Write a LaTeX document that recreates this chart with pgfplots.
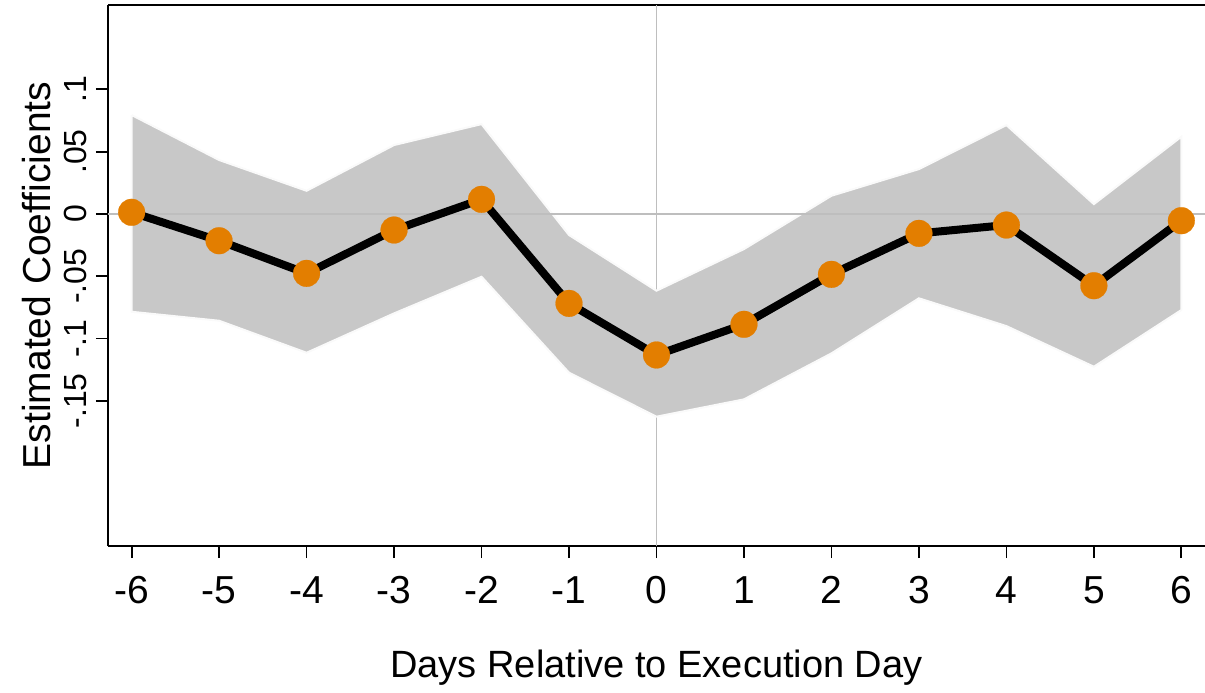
\documentclass[border=0pt]{standalone}
\usepackage{fontspec}
\setmainfont{Liberation Sans}
\usepackage{pgfplots}
\usepackage{pgfplotstable}
\pgfplotsset{compat=1.18}
\definecolor{bandgray}{RGB}{200,200,200}
\definecolor{dotorange}{RGB}{227,126,0}
\definecolor{refgray}{RGB}{190,190,190}

\pgfplotstableread{
x  y        
-6  0.0013
-5 -0.0215
-4 -0.0477
-3 -0.0129
-2  0.0117
-1 -0.0718
0  -0.1132
1  -0.0886
2  -0.0485
3  -0.0156
4  -0.0089
5  -0.0576
6  -0.0054
}\coef

\pgfplotstableread{
x  b
-6  0.0794
-5  0.0433
-4  0.0186
-3  0.0553
-2  0.0721
-1 -0.0169
0  -0.0616
1  -0.0282
2   0.0146
3   0.0360
4   0.0713
5   0.0079
6   0.0620
6  -0.0771
5  -0.1226
4  -0.0900
3  -0.0677
2  -0.1119
1  -0.1488
0  -0.1627
-1 -0.1274
-2 -0.0504
-3 -0.0798
-4 -0.1114
-5 -0.0857
-6 -0.0785
-6  0.0794
}\band

\begin{document}
\begin{tikzpicture}
\useasboundingbox (-54pt,-73pt) rectangle (548.5pt,273pt);
\begin{axis}[
  at={(0,0)}, anchor=south west,
  scale only axis, width=548.5pt, height=270.5pt,
  xmin=-6.27, xmax=6.27, ymin=-0.2665, ymax=0.1677,
  axis x line*=box, axis y line*=left,
  axis line style={line width=1pt, black},
  xtick={-6,-5,...,6},
  xticklabels={{-6},{-5},{-4},{-3},{-2},{-1},{0},{1},{2},{3},{4},{5},{6}},
  xtick pos=bottom,
  ytick={-0.15,-0.1,-0.05,0,0.05,0.1},
  yticklabels={{-.15},{-.1},{-.05},{0},{.05},{.1}},
  tick align=outside,
  major tick length=6pt,
  tick style={line width=0.9pt, black},
  xticklabel style={font=\fontsize{19.5}{20}\selectfont, inner sep=0pt},
  xticklabel shift=9pt,
  yticklabel style={font=\fontsize{16}{16}\selectfont, rotate=90, anchor=south, inner sep=0pt},
  yticklabel shift=4.5pt,
  xlabel={Days Relative to Execution Day},
  ylabel={Estimated Coefficients},
  xlabel style={font=\fontsize{19}{19}\selectfont, at={(axis description cs:0.5,-0.2255)}, anchor=center},
  ylabel style={font=\fontsize{19.5}{19}\selectfont, at={(axis description cs:-0.0655,0.5)}, anchor=center},
]
\draw[refgray, line width=0.8pt] (axis cs:0,-0.2665) -- (axis cs:0,0.1677);
\addplot[fill=bandgray, draw=white!96!gray, line width=1pt] table[x=x, y=b] {\band};
\draw[refgray, line width=0.8pt] (axis cs:-6.27,0) -- (axis cs:6.27,0);
\addplot[black, line width=4pt, mark=none] table[x=x, y=y] {\coef};
\addplot[only marks, mark=*, mark size=6.7pt,
  mark options={fill=dotorange, draw=dotorange, line width=0.1pt, solid}] table[x=x, y=y] {\coef};
\end{axis}
\end{tikzpicture}
\end{document}
